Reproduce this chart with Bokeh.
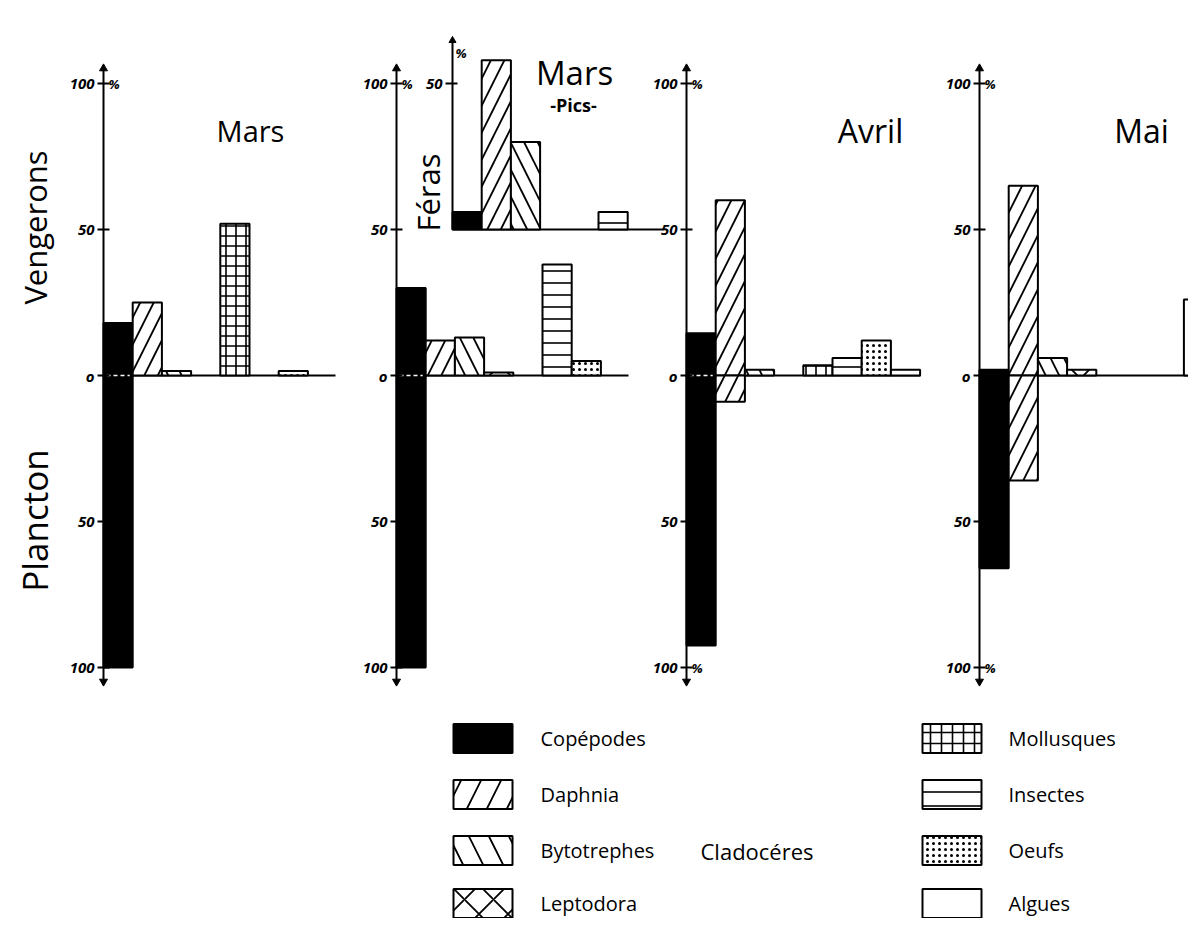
import numpy as np
from bokeh.plotting import figure
from bokeh.models import Range1d, ColumnDataSource
from bokeh.core.properties import value
from bokeh.embed import file_html
from bokeh.resources import INLINE

# ---------------- data ----------------
categories = ["Copépodes", "Daphnia", "Bytotrephes", "Leptodora",
              "Mollusques", "Insectes", "Oeufs", "Algues"]
panel_titles = ["Mars", "", "Avril", "Mai"]

# % in the stomachs of Vengerons (upwards) and in the plancton (downwards)
vengerons_mars = [18, 25, 1.5, 0, 52, 0, 1.5, 0]
plancton_mars = [100, 0, 0, 0, 0, 0, 0, 0]
vengerons_mars2 = [30, 12, 13, 1, 0, 38, 5, 0]
plancton_mars2 = [100, 0, 0, 0, 0, 0, 0, 0]
vengerons_avril = [14.5, 60, 2, 0, 3.5, 6, 12, 2]
plancton_avril = [92.5, 9, 0, 0, 0, 0, 0, 0]
vengerons_mai = [2, 65, 6, 2, 0, 0, 0, 26]
plancton_mai = [66, 36, 0, 0, 0, 0, 0, 0]
# inset: Féras, Mars -Pics-
feras_mars_pics = [6, 58, 30, 0, 0, 6, 0, 0]

tick_values = [100, 50, 0, -50, -100]
tick_labels = ["100", "50", "o", "50", "100"]
inset_tick_values = [50]
inset_tick_labels = ["50"]

# ---------------- styles / layout ----------------
FONT = "Open Sans"
fills = ["black", "white", "white", "white", "white", "white", "white", "white"]
hatches = [" ", "/", "\\", "x", "+", "-", ".", " "]
hscales = [12, 27, 27, 27, 10, 12, 6, 12]
hweights = [1, 1.8, 1.8, 1.8, 1.6, 1.6, 0.4, 1]
leg_hscales = [12, 40, 40, 29, 11, 14, 6, 12]

W, H = 1188, 918
Y0, K = 375.0, 2.92


def yd(py):
    return (Y0 - py) / K


BW = 29.2
axes_x = [103, 396, 686, 979]
base_end = [335, 628, 920, 1210]
panels_up = [vengerons_mars, vengerons_mars2, vengerons_avril, vengerons_mai]
panels_dn = [plancton_mars, plancton_mars2, plancton_avril, plancton_mai]
INSET_X, INSET_BASE, INSET_END = 452, 50, 664

p = figure(width=W, height=H, x_range=Range1d(0, W),
           y_range=Range1d(yd(H), yd(0)),
           output_backend="svg", toolbar_location=None, min_border=0,
           x_axis_location=None, y_axis_location=None,
           outline_line_color=None, background_fill_color="white",
           border_fill_color="white")
p.grid.grid_line_color = None

# baselines
p.segment(x0=axes_x, y0=[0] * 4, x1=base_end, y1=[0] * 4,
          line_color="black", line_width=2)
p.segment(x0=[INSET_X], y0=[INSET_BASE], x1=[INSET_END], y1=[INSET_BASE],
          line_color="black", line_width=2)

# bars
bars = dict(left=[], right=[], top=[], bottom=[], fill=[], hatch=[], hs=[], hw=[])


def add_bars(vals, ax, base, sign):
    for i, v in enumerate(vals):
        if v <= 0:
            continue
        bars["left"].append(ax + i * BW)
        bars["right"].append(ax + (i + 1) * BW)
        if sign > 0:
            bars["bottom"].append(base)
            bars["top"].append(base + v)
        else:
            bars["top"].append(base)
            bars["bottom"].append(base - v)
        bars["fill"].append(fills[i])
        bars["hatch"].append(hatches[i])
        bars["hs"].append(hscales[i])
        bars["hw"].append(hweights[i])


for ax, up, dn in zip(axes_x, panels_up, panels_dn):
    add_bars(up, ax, 0, 1)
    add_bars(dn, ax, 0, -1)
add_bars(feras_mars_pics, INSET_X, INSET_BASE, 1)

src = ColumnDataSource(bars)
p.quad(left="left", right="right", top="top", bottom="bottom", source=src,
       fill_color="fill", line_color="black", line_width=2,
       hatch_pattern="hatch", hatch_scale="hs", hatch_weight="hw",
       hatch_color="black")

# white dashed zero line across black bars that span both sides
wx0, wx1 = [], []
for ax, up, dn in zip(axes_x, panels_up, panels_dn):
    if up[0] > 3 and dn[0] > 0:
        wx0.append(ax + 3)
        wx1.append(ax + BW - 3)
p.segment(x0=wx0, y0=[0] * len(wx0), x1=wx1, y1=[0] * len(wx0),
          line_color="white", line_width=1.5, line_dash="4 3")

# vertical axes
top_y, bot_y = yd(68), yd(681)
p.segment(x0=axes_x, y0=[top_y] * 4, x1=axes_x, y1=[bot_y] * 4,
          line_color="black", line_width=2)
p.scatter(x=axes_x, y=[top_y] * 4, marker="triangle", size=8,
          fill_color="black", line_color="black")
p.scatter(x=axes_x, y=[bot_y] * 4, marker="inverted_triangle", size=8,
          fill_color="black", line_color="black")
inset_top = yd(40)
p.segment(x0=[INSET_X], y0=[INSET_BASE], x1=[INSET_X], y1=[inset_top],
          line_color="black", line_width=2)
p.scatter(x=[INSET_X], y=[inset_top], marker="triangle", size=7,
          fill_color="black", line_color="black")

# ticks and tick labels
tx0, tx1, ty, lx, ly, lt = [], [], [], [], [], []
for ax in axes_x:
    for tv, tl in zip(tick_values, tick_labels):
        tx0.append(ax - 6)
        tx1.append(ax + 6)
        ty.append(tv)
        lx.append(ax - 9)
        ly.append(tv)
        lt.append(tl)
for tv, tl in zip(inset_tick_values, inset_tick_labels):
    tx0.append(INSET_X - 7)
    tx1.append(INSET_X + 5)
    ty.append(INSET_BASE + tv)
    lx.append(INSET_X - 10)
    ly.append(INSET_BASE + tv)
    lt.append(tl)
p.segment(x0=tx0, y0=ty, x1=tx1, y1=ty, line_color="black", line_width=2)
p.text(x=lx, y=ly, text=lt, text_align="right", text_baseline="middle",
       text_font=value(FONT), text_font_size="15px", text_font_style="bold italic",
       text_color="black")

# percent signs
px_, py_ = [], []
for j, ax in enumerate(axes_x):
    px_.append(ax + 5)
    py_.append(tick_values[0])
    if j >= 2:
        px_.append(ax + 5)
        py_.append(tick_values[-1])
px_.append(INSET_X + 3)
py_.append(yd(52))
p.text(x=px_, y=py_, text=["%"] * len(px_), text_align="left",
       text_baseline="middle", text_font=value(FONT), text_font_size="13px",
       text_font_style="bold italic", text_color="black")

# titles
title_x = [250, 0, 870, 1141]
title_size = ["29px", "29px", "32px", "32px"]
tt = [(x, t, s) for x, t, s in zip(title_x, panel_titles, title_size) if t]
p.text(x=[a for a, _, _ in tt], y=[yd(130)] * len(tt), text=[b for _, b, _ in tt],
       text_font_size=[c for _, _, c in tt],
       text_align="center", text_baseline="middle", text_font=value(FONT),
       text_color="black")
p.text(x=[574], y=[yd(72)], text=["Mars"], text_align="center",
       text_baseline="middle", text_font=value(FONT), text_font_size="33px",
       text_color="black")
p.text(x=[573], y=[yd(104)], text=["-Pics-"], text_align="center",
       text_baseline="middle", text_font=value(FONT), text_font_size="18px",
       text_font_style="bold", text_color="black")

# rotated side labels
p.text(x=[34], y=[yd(227)], text=["Vengerons"],
       angle=np.pi / 2, text_align="center", text_baseline="middle",
       text_font=value(FONT), text_font_size="31px", text_color="black")
p.text(x=[34], y=[yd(520)], text=["Plancton"],
       angle=np.pi / 2, text_align="center", text_baseline="middle",
       text_font=value(FONT), text_font_size="35px", text_color="black")
p.text(x=[427], y=[yd(192)], text=["Féras"], angle=np.pi / 2,
       text_align="center", text_baseline="middle", text_font=value(FONT),
       text_font_size="31px", text_color="black")

# legend
leg_rows = [738, 794, 850, 903]
HB = 14.5
lg = dict(left=[], right=[], top=[], bottom=[], fill=[], hatch=[], hs=[], hw=[])
tx, tyy, ttxt = [], [], []
for i, cat in enumerate(categories):
    col = i // 4
    row = i % 4
    x0 = 453 if col == 0 else 922
    cy = leg_rows[row]
    lg["left"].append(x0)
    lg["right"].append(x0 + 59)
    lg["top"].append(yd(cy - HB))
    lg["bottom"].append(yd(cy + HB))
    lg["fill"].append(fills[i])
    lg["hatch"].append(hatches[i])
    lg["hs"].append(leg_hscales[i])
    lg["hw"].append(hweights[i])
    tx.append(540 if col == 0 else 1008)
    tyy.append(yd(cy))
    ttxt.append(cat)
p.quad(left="left", right="right", top="top", bottom="bottom",
       source=ColumnDataSource(lg), fill_color="fill", line_color="black",
       line_width=2, hatch_pattern="hatch", hatch_scale="hs",
       hatch_weight="hw", hatch_color="black")
p.text(x=tx, y=tyy, text=ttxt, text_align="left", text_baseline="middle",
       text_font=value(FONT), text_font_size="20px", text_color="black")
p.text(x=[700], y=[yd(leg_rows[2])], text=["Cladocéres"], text_align="left",
       text_baseline="middle", text_font=value(FONT), text_font_size="22px",
       text_color="black")

open("out.html", "w").write(file_html(p, INLINE))
